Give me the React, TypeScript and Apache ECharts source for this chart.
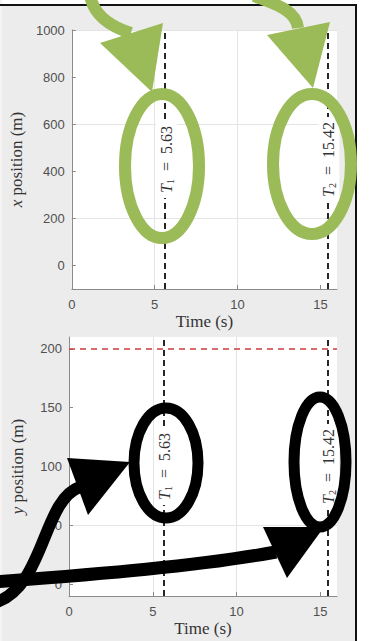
import React, { useEffect, useRef } from 'react';
import * as echarts from 'echarts';

// ---- data ----
const timeRange = [0, 16];
const timeTicks = [0, 5, 10, 15];
const xPosRange = [-100, 1000];
const xPosTicks = [0, 200, 400, 600, 800, 1000];
const yPosRange = [-10, 210];
const yPosTicks = [0, 50, 100, 150, 200];
const switchTimes = [5.63, 15.42];
const switchIndex = ['1', '2'];
const yTarget = 200;

const SERIF = '"Liberation Serif", "DejaVu Serif", serif';
const SANS = '"Liberation Sans", Arial, sans-serif';
const GREEN = '#9bbb59';

export default function App() {
  const ref = useRef<HTMLDivElement>(null);
  useEffect(() => {
    if (!ref.current) return;
    const chart = echarts.init(ref.current, undefined, { renderer: 'svg' });

    const gridLine = '#e4e4e4';
    const axisColor = '#8a8a8a';
    const labelColor = '#505050';

    const xAxisBase = (gi: number) => ({
      type: 'value',
      gridIndex: gi,
      min: timeRange[0],
      max: timeRange[1],
      interval: 5,
      name: 'Time (s)',
      nameLocation: 'middle',
      nameGap: 24,
      nameTextStyle: { fontFamily: SERIF, fontSize: 17, color: '#333' },
      axisLine: { show: true, onZero: false, lineStyle: { color: axisColor, width: 1 } },
      axisTick: { show: true, inside: true, length: 4, customValues: timeTicks, lineStyle: { color: axisColor } },
      axisLabel: {
        customValues: timeTicks,
        formatter: (v: number) => (timeTicks.includes(v) ? String(v) : ''),
        fontFamily: SANS, fontSize: 13, color: labelColor, margin: 9,
      },
      splitLine: { show: true, showMaxLine: false, lineStyle: { color: gridLine, width: 1 } },
    });

    const yAxisBase = (gi: number, range: number[], ticks: number[], step: number, colors: string[], letter: string) => ({
      type: 'value',
      gridIndex: gi,
      min: range[0],
      max: range[1],
      interval: step,
      name: `{i|${letter}} position (m)`,
      nameLocation: 'middle',
      nameGap: 43,
      nameTextStyle: {
        fontFamily: SERIF, fontSize: 17, color: '#333',
        rich: { i: { fontFamily: SERIF, fontStyle: 'italic', fontSize: 17, color: '#333' } },
      },
      axisLine: { show: true, onZero: false, lineStyle: { color: axisColor, width: 1 } },
      axisTick: { show: true, inside: true, length: 4, customValues: ticks, lineStyle: { color: axisColor } },
      axisLabel: {
        customValues: ticks,
        formatter: (v: number) => (ticks.includes(v) ? String(v) : ''),
        fontFamily: SANS, fontSize: 13, color: labelColor, margin: 7,
      },
      splitLine: { show: true, lineStyle: { color: colors, width: 1 } },
    });

    const T = 'transparent';
    const lineLabel = {
      show: true,
      position: 'middle',
      formatter: (p: any) => `{t|T}{s|${p.name}}{n|  =  ${Number(p.value).toFixed(2)}}`,
      backgroundColor: '#ffffff',
      padding: [2, 5],
      distance: -12,
      rich: {
        t: { fontFamily: SERIF, fontStyle: 'italic', fontSize: 16, color: '#333' },
        s: { fontFamily: SERIF, fontSize: 10, color: '#333', verticalAlign: 'bottom', padding: [7, 0, 0, 0] },
        n: { fontFamily: SERIF, fontSize: 16, color: '#333' },
      },
    };
    const vLines = (gi: number) => ({
      type: 'line',
      xAxisIndex: gi,
      yAxisIndex: gi,
      data: [],
      markLine: {
        silent: true,
        symbol: ['none', 'none'],
        animation: false,
        lineStyle: { type: [6, 4], color: '#262626', width: 2 },
        label: lineLabel,
        data: switchTimes.map((t, i) => ({ xAxis: t, name: switchIndex[i] })),
      },
    });

    const ellipse = (cx: number, cy: number, rx: number, ry: number, color: string, lw: number) => ({
      type: 'ellipse', z: 100, shape: { cx, cy, rx, ry }, style: { fill: 'none', stroke: color, lineWidth: lw },
    });
    const curve = (x1: number, y1: number, cpx1: number, cpy1: number, cpx2: number, cpy2: number, x2: number, y2: number, color: string, lw: number) => ({
      type: 'bezierCurve', z: 100, shape: { x1, y1, cpx1, cpy1, cpx2, cpy2, x2, y2 }, style: { fill: 'none', stroke: color, lineWidth: lw },
    });
    const head = (pts: number[][], color: string) => ({
      type: 'polygon', z: 101, shape: { points: pts }, style: { fill: color },
    });

    chart.setOption({
      animation: false,
      backgroundColor: '#ececec',
      grid: [
        { left: 69, top: 30, width: 268, height: 259, show: true, backgroundColor: '#ffffff', borderWidth: 0 },
        { left: 69, top: 337, width: 268, height: 259, show: true, backgroundColor: '#ffffff', borderWidth: 0 },
      ],
      xAxis: [xAxisBase(0), xAxisBase(1)],
      yAxis: [
        yAxisBase(0, xPosRange, xPosTicks, 100, [T, gridLine], 'x'),
        yAxisBase(1, yPosRange, yPosTicks, 10, [T, gridLine, T, T, T], 'y'),
      ],
      series: [
        vLines(0),
        vLines(1),
        {
          type: 'line',
          xAxisIndex: 1,
          yAxisIndex: 1,
          data: [],
          markLine: {
            silent: true,
            symbol: ['none', 'none'],
            animation: false,
            lineStyle: { type: [6, 5], color: '#cc3b3b', width: 1.5 },
            label: { show: false },
            data: [{ yAxis: yTarget }],
          },
        },
      ],
      graphic: [
        { type: 'rect', z: 90, shape: { x: 0, y: 0, width: 370, height: 4 }, style: { fill: '#ffffff' } },
        { type: 'rect', z: 90, shape: { x: 357, y: 0, width: 13, height: 641 }, style: { fill: '#ffffff' } },
        { type: 'rect', z: 90, shape: { x: 0, y: 0, width: 2, height: 641 }, style: { fill: '#f7f3f3' } },
        { type: 'rect', z: 91, shape: { x: 0, y: 4, width: 357, height: 2 }, style: { fill: '#111111' } },
        { type: 'rect', z: 91, shape: { x: 355, y: 4, width: 2, height: 637 }, style: { fill: '#111111' } },
        // green annotations
        curve(90, -4, 94, 14, 108, 26, 131, 33, GREEN, 12),
        head([[100, 43], [163, 23], [152, 92]], GREEN),
        curve(254, -4, 275, 4, 296, 10, 298, 28, GREEN, 12),
        head([[267, 35], [330, 22], [313, 88]], GREEN),
        ellipse(162, 166, 37, 72, GREEN, 12),
        ellipse(312, 164, 39, 70, GREEN, 12),
        // black annotations
        ellipse(166, 463, 32, 55, '#000', 11),
        ellipse(320, 462, 26, 65, '#000', 11),
        curve(-6, 603, 45, 588, 42, 500, 80, 487, '#000', 12),
        head([[67, 458], [88, 515], [130, 462]], '#000'),
        curve(-6, 582, 100, 574, 200, 566, 276, 552, '#000', 13),
        head([[263, 527], [287, 578], [324, 527]], '#000'),
      ],
    });
    return () => chart.dispose();
  }, []);
  return <div ref={ref} style={{ position: 'fixed', left: 0, top: 0, width: 370, height: 641 }} />;
}
